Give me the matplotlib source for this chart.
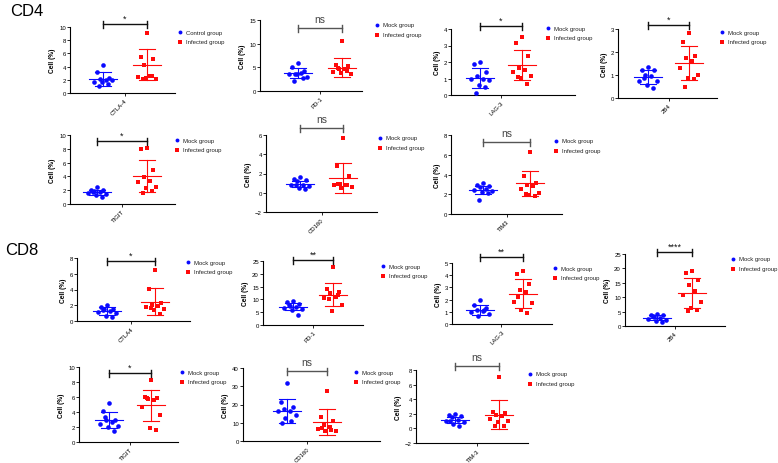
import numpy as np
import matplotlib
matplotlib.use('Agg')
import matplotlib.pyplot as plt
from matplotlib import transforms
from matplotlib.lines import Line2D

plt.rcParams['font.family'] = ['Liberation Sans', 'DejaVu Sans']

W, H = 778, 464
BLUE = '#0a0aff'
RED = '#ff0a0a'

# ---- data ----
markers = ['CTLA-4', 'PD-1', 'LAG-3', '2B4', 'TIGIT', 'CD160', 'TIM3',
           'CTLA4', 'PD-1', 'LAG-3', '2B4', 'TIGIT', 'CD160', 'TIM-3']
control_names = ['Control group'] + ['Mock group'] * 13
signif = ['*', 'ns', '*', '*', '*', 'ns', 'ns',
          '*', '**', '**', '****', '*', 'ns', 'ns']

# CD4 panels
cd4_ctla4_mock = [4.3, 3.2, 2.3, 2.1, 1.9, 1.7, 2.0, 1.6, 1.3, 1.1]
cd4_ctla4_inf = [9.1, 5.5, 5.2, 4.2, 2.6, 2.4, 2.1, 2.2, 2.6, 2.1]
cd4_pd1_mock = [5.9, 5.1, 4.2, 3.6, 3.8, 3.5, 3.0, 3.6, 2.8, 2.2]
cd4_pd1_inf = [10.5, 5.4, 5.3, 4.6, 4.7, 4.0, 3.5, 3.7, 4.2, 4.8]
cd4_lag3_mock = [1.98, 1.86, 1.37, 1.13, 1.0, 0.97, 0.9, 0.6, 0.46, 0.1]
cd4_lag3_inf = [3.5, 3.13, 2.34, 1.64, 1.53, 1.41, 1.13, 1.03, 0.65, 1.1]
cd4_2b4_mock = [1.34, 1.23, 1.2, 1.0, 0.95, 0.76, 0.72, 0.55, 0.45, 0.88]
cd4_2b4_inf = [2.81, 2.42, 1.82, 1.75, 1.59, 1.3, 0.98, 0.89, 0.84, 0.49]
cd4_tigit_mock = [2.5, 2.1, 2.0, 1.85, 1.7, 1.6, 1.45, 1.3, 1.0, 1.75]
cd4_tigit_inf = [8.1, 7.9, 4.9, 3.9, 3.4, 3.2, 2.5, 2.3, 1.9, 1.6]
cd4_cd160_mock = [1.65, 1.38, 1.31, 1.24, 0.83, 0.76, 0.69, 0.52, 0.41, 0.83]
cd4_cd160_inf = [5.66, 2.76, 1.79, 0.9, 0.83, 0.76, 0.55, 0.52, 0.83, 0.9]
cd4_tim3_mock = [3.16, 2.96, 2.82, 2.69, 2.52, 2.42, 2.32, 2.22, 2.15, 1.45]
cd4_tim3_inf = [6.32, 3.83, 3.13, 2.89, 2.82, 2.52, 2.15, 1.88, 1.82, 2.05]

# CD8 panels
cd8_ctla4_mock = [2.07, 1.78, 1.57, 1.48, 1.23, 1.1, 1.06, 0.64, 0.55, 1.4]
cd8_ctla4_inf = [6.5, 4.1, 2.3, 2.07, 1.86, 1.74, 1.53, 1.44, 0.89, 1.7]
cd8_pd1_mock = [9.2, 8.9, 8.2, 7.6, 7.2, 6.8, 6.3, 5.9, 3.9, 7.9]
cd8_pd1_inf = [22.6, 13.9, 12.8, 12.4, 10.9, 10.6, 8.0, 5.4, 11.8, 10.2]
cd8_lag3_mock = [1.98, 1.57, 1.32, 1.15, 1.07, 0.96, 0.8, 0.69, 1.13]
cd8_lag3_inf = [4.31, 4.07, 3.24, 2.8, 2.61, 1.84, 1.73, 1.15, 0.88, 2.2]
cd8_2b4_mock = [4.26, 3.9, 3.7, 3.1, 2.76, 2.3, 1.96, 1.6, 1.4, 3.4]
cd8_2b4_inf = [19.2, 18.3, 15.8, 14.3, 12.1, 10.8, 8.5, 6.2, 5.6, 5.3]
cd8_tigit_mock = [5.2, 4.1, 3.0, 2.9, 2.7, 2.4, 2.1, 2.0, 1.5, 3.3]
cd8_tigit_inf = [8.3, 6.0, 5.9, 5.8, 5.6, 4.7, 3.6, 1.9, 1.6, 5.9]
cd8_cd160_mock = [31.7, 21.5, 18.8, 17.5, 16.6, 16.4, 14.2, 12.5, 11.0, 9.6]
cd8_cd160_inf = [27.6, 13.3, 11.0, 8.7, 7.4, 6.4, 5.5, 5.6, 6.2, 7.0]
cd8_tim3_mock = [2.0, 1.8, 1.64, 1.55, 1.18, 0.95, 0.82, 0.6, 0.36, 1.0]
cd8_tim3_inf = [7.1, 2.2, 2.1, 1.8, 1.64, 1.27, 1.05, 0.82, 0.36, 0.27]

mock_groups = [cd4_ctla4_mock, cd4_pd1_mock, cd4_lag3_mock, cd4_2b4_mock,
               cd4_tigit_mock, cd4_cd160_mock, cd4_tim3_mock,
               cd8_ctla4_mock, cd8_pd1_mock, cd8_lag3_mock, cd8_2b4_mock,
               cd8_tigit_mock, cd8_cd160_mock, cd8_tim3_mock]
inf_groups = [cd4_ctla4_inf, cd4_pd1_inf, cd4_lag3_inf, cd4_2b4_inf,
              cd4_tigit_inf, cd4_cd160_inf, cd4_tim3_inf,
              cd8_ctla4_inf, cd8_pd1_inf, cd8_lag3_inf, cd8_2b4_inf,
              cd8_tigit_inf, cd8_cd160_inf, cd8_tim3_inf]

# mean +/- SD as drawn in the picture
mock_mean = [2.15, 3.75, 1.02, 0.92, 1.7, 0.93, 2.42, 1.25, 7.2, 1.15, 2.9, 2.95, 16.4, 1.18]
mock_sd = [1.05, 1.05, 0.6, 0.29, 0.35, 0.3, 0.42, 0.47, 1.4, 0.38, 0.95, 1.1, 6.6, 0.42]
inf_mean = [4.3, 4.9, 1.8, 1.52, 4.1, 1.55, 3.1, 2.45, 11.9, 2.5, 11.6, 4.9, 10.4, 1.9]
inf_sd = [2.3, 2.0, 0.92, 0.73, 2.3, 1.57, 1.3, 1.7, 4.5, 1.15, 5.2, 2.07, 6.9, 1.93]

y_lims = [(0, 10), (0, 15), (0, 4), (0, 3), (0, 10), (-2, 6), (0, 8),
          (0, 8), (0, 25), (0, 5), (0, 25), (0, 10), (0, 40), (-2, 8)]
y_steps = [2, 5, 1, 1, 2, 2, 2, 2, 5, 1, 5, 2, 10, 2]

# ---- layout in pixels: y-axis x, x-axis end, top, bottom, group centres,
# bracket y, legend x, legend y ----
layout = [
    (70, 175, 28, 94, 103, 147, 25, 180, 33),
    (260, 362, 21, 92, 298, 342, 29, 377, 26),
    (451, 575, 30, 96, 480, 522, 27, 548, 29),
    (618, 717, 30, 99, 648, 689, 26, 722, 33),
    (70, 175, 136, 205, 97, 147, 142, 177, 141),
    (266, 377, 136, 213, 300, 343, 129, 380, 139),
    (451, 562, 136, 215, 483, 530, 143, 556, 142),
    (77, 190, 259, 322, 107, 155, 262, 188, 263),
    (263, 363, 262, 326, 293, 333, 261, 383, 267),
    (452, 552, 264, 325, 480, 523, 258, 555, 269),
    (625, 725, 255, 327, 657, 692, 253, 733, 260),
    (79, 178, 368, 443, 109, 151, 374, 182, 373),
    (243, 380, 369, 442, 287, 327, 372, 356, 373),
    (416, 528, 371, 444, 455, 499, 367, 530, 375),
]

# horizontal scatter spread (pixels)
offs = np.array([0, -6, 6, -3, 3, -9, 9, -1.5, 4.5, -4.5])


def fx(x):
    return x / W


def fy(y):
    return 1 - y / H


fig = plt.figure(figsize=(W / 100, H / 100), dpi=100)

fig.text(fx(10), fy(12), 'CD4', fontsize=12, va='center', ha='left')
fig.text(fx(5), fy(251), 'CD8', fontsize=12, va='center', ha='left')

for i in range(14):
    xl, xr, yt, yb, cb, cr, by, lx, ly = layout[i]
    ax = fig.add_axes([fx(xl), fy(yb), (xr - xl) / W, (yb - yt) / H])
    u = cr - cb  # pixels per data unit
    ax.set_xlim(1 - (cb - xl) / u, 2 + (xr - cr) / u)
    ax.set_ylim(*y_lims[i])

    groups = [mock_groups[i], inf_groups[i]]
    means = [mock_mean[i], inf_mean[i]]
    sds = [mock_sd[i], inf_sd[i]]
    cols = [BLUE, RED]
    marks = ['o', 's']
    sizes = [11, 10]
    for g in range(2):
        vals = np.array(groups[g])
        xs = g + 1 + offs[:len(vals)] / u
        ax.scatter(xs, vals, s=sizes[g], marker=marks[g], color=cols[g],
                   linewidths=0, zorder=3, clip_on=False)
        hw = 14 / u
        cw = 8 / u
        m, s = means[g], sds[g]
        ax.plot([g + 1 - hw, g + 1 + hw], [m, m], color=cols[g], lw=0.8, zorder=2)
        ax.plot([g + 1, g + 1], [m - s, m + s], color=cols[g], lw=0.8, zorder=2)
        for v in (m - s, m + s):
            ax.plot([g + 1 - cw, g + 1 + cw], [v, v], color=cols[g], lw=0.8, zorder=2)

    for sp in ['top', 'right']:
        ax.spines[sp].set_visible(False)
    for sp in ['left', 'bottom']:
        ax.spines[sp].set_linewidth(0.8)
    lo, hi = y_lims[i]
    ax.set_yticks(np.arange(lo, hi + 0.01, y_steps[i]))
    ax.set_xticks([1.5])
    ax.set_xticklabels([markers[i]], rotation=45, ha='right',
                       rotation_mode='anchor', fontsize=4.3)
    ax.tick_params(axis='y', labelsize=4.3, length=2, width=0.6, pad=1)
    ax.tick_params(axis='x', length=2, width=0.6, pad=1.5)
    ax.set_ylabel('Cell (%)', fontsize=4.8, fontweight='bold', labelpad=2)

    # significance bracket
    tr = transforms.blended_transform_factory(ax.transData, fig.transFigure)
    ns = signif[i] == 'ns'
    bcol = '#555555' if ns else '#111111'
    fig.add_artist(Line2D([1, 2], [fy(by), fy(by)], transform=tr,
                          color=bcol, lw=1.0))
    for xe in (1, 2):
        fig.add_artist(Line2D([xe, xe], [fy(by - 3.5), fy(by + 3.5)],
                              transform=tr, color=bcol, lw=1.0))
    if ns:
        fig.text(1.5, fy(by - 4), 'ns', transform=tr, ha='center',
                 va='bottom', fontsize=7.5, color='#444444')
    else:
        fig.text(1.5, fy(by - 1), signif[i], transform=tr, ha='center',
                 va='bottom', fontsize=6.5, color='#111111')

    # legend
    names = [control_names[i], 'Infected group']
    for g in range(2):
        yy = ly + g * 9.5
        fig.add_artist(Line2D([fx(lx)], [fy(yy)], marker=marks[g], ms=2.8,
                              color=cols[g], mew=0, linestyle='none'))
        fig.text(fx(lx + 6), fy(yy), names[g], fontsize=4.3, va='center',
                 ha='left', color='#222222')

fig.savefig('out.png', dpi=100)
